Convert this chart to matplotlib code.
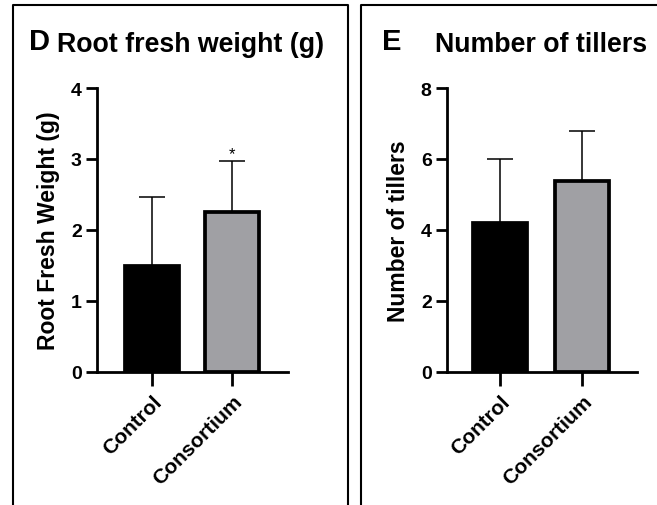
import matplotlib
matplotlib.use("Agg")
import matplotlib.pyplot as plt
from matplotlib.lines import Line2D

plt.rcParams['font.family'] = ['Liberation Sans', 'DejaVu Sans']
plt.rcParams['font.weight'] = 'bold'

# Data
groups = ["Control", "Consortium"]
root_weight_mean = [1.50, 2.26]
root_weight_sd = [0.96, 0.71]
root_weight_sig = ["", "*"]
tillers_mean = [4.2, 5.38]
tillers_sd = [1.8, 1.42]
bar_colors = ["#000000", "#a0a0a4"]
root_yticks = [0, 1, 2, 3, 4]
tiller_yticks = [0, 2, 4, 6, 8]

W, H = 657, 506
fig = plt.figure(figsize=(W / 100, H / 100), dpi=100)


def px_rect(x0, x1, ytop, ybot):
    return [x0 / W, 1 - ybot / H, (x1 - x0) / W, (ybot - ytop) / H]


def draw_panel(ax, means, sds, yticks, ylabel, xlim, bw, sig=None):
    x = list(range(len(means)))
    ax.bar(x, means, width=bw, color=bar_colors, edgecolor="black",
           linewidth=2.7, zorder=2)
    ax.errorbar(x, means, yerr=[[0] * len(sds), sds], fmt="none",
                ecolor="black", elinewidth=1.1, capsize=9.7, capthick=1.1,
                zorder=1)
    if sig:
        for xi, m, s, t in zip(x, means, sds, sig):
            if t:
                ax.text(xi, m + s, t, ha="center", va="bottom",
                        fontsize=12, fontweight="normal")
    ax.set_xlim(*xlim)
    ax.set_ylim(yticks[0], yticks[-1])
    ax.set_yticks(yticks)
    ax.set_xticks(x)
    ax.set_xticklabels(groups, rotation=45, ha="right",
                       rotation_mode="anchor", fontsize=15, fontweight="bold")
    ax.set_yticklabels([str(t) for t in yticks], fontsize=14,
                       fontweight="bold")
    ax.spines["top"].set_visible(False)
    ax.spines["right"].set_visible(False)
    for s in ("left", "bottom"):
        ax.spines[s].set_linewidth(2.0)
    ax.tick_params(axis="y", length=8, width=2.0, pad=3)
    ax.tick_params(axis="x", length=10, width=2.0, pad=4)
    ax.set_ylabel(ylabel, fontsize=16.5, fontweight="bold", labelpad=8)


axD = fig.add_axes(px_rect(97, 288, 89, 373))
draw_panel(axD, root_weight_mean, root_weight_sd, root_yticks,
           "Root Fresh Weight (g)", (-0.69, 1.70), 0.67, root_weight_sig)

axE = fig.add_axes(px_rect(447, 637, 89, 373))
draw_panel(axE, tillers_mean, tillers_sd, tiller_yticks,
           "Number of tillers", (-0.65, 1.67), 0.66)

# Panel letters and titles
fig.text(29 / W, 1 - 50 / H, "D", fontsize=21, fontweight="bold",
         ha="left", va="baseline")
fig.text(57 / W, 1 - 52 / H, "Root fresh weight (g)", fontsize=19.3,
         fontweight="bold", ha="left", va="baseline")
fig.text(382 / W, 1 - 50 / H, "E", fontsize=21, fontweight="bold",
         ha="left", va="baseline")
fig.text(435 / W, 1 - 52 / H, "Number of tillers", fontsize=19.3,
         fontweight="bold", ha="left", va="baseline")

# Panel frames
def fig_line(xs, ys):
    fig.add_artist(Line2D([v / W for v in xs], [1 - v / H for v in ys],
                          color="black", linewidth=1.5))

fig_line([12.5, 12.5, 348, 348], [510, 5.5, 5.5, 510])
fig_line([361, 361, 660], [510, 5.5, 5.5])

fig.savefig("out.png", dpi=100, facecolor="white")
